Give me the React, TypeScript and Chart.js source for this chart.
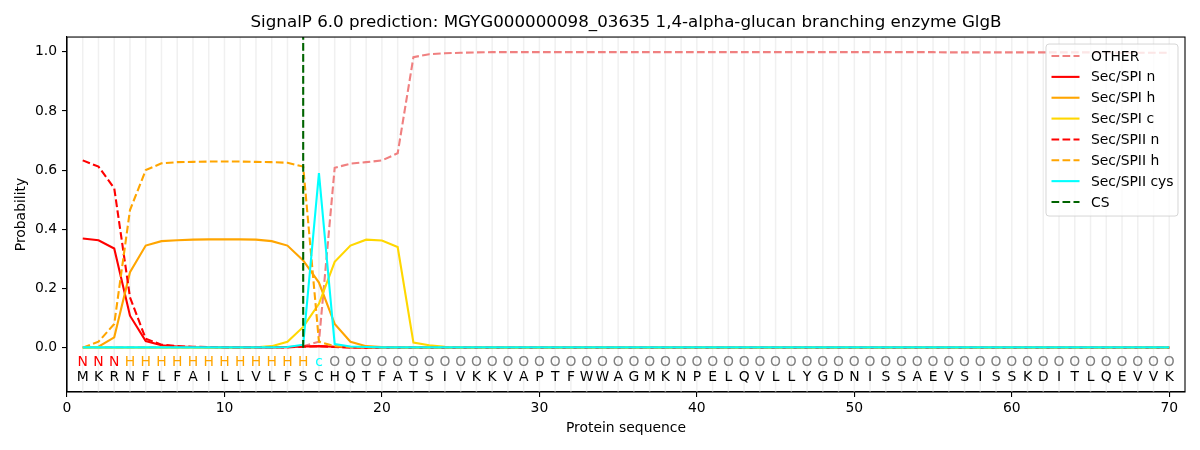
import React, { useEffect, useRef } from "react";
import { Chart, registerables, ChartConfiguration, Plugin } from "chart.js";

Chart.register(...registerables);

// Protein sequence (one letter per position, starting at 1)
const sequence = "MKRNFLFAILLVLFSCHQTFATSIVKKVAPTFWWAGMKNPELQVLLYGDNISSAEVSISSKDITLQEVVK".split("");

// Predicted region per position: N = n-region, H = h-region, c = c-region/cys, O = other
const regionLabels = "NNNHHHHHHHHHHHHcOOOOOOOOOOOOOOOOOOOOOOOOOOOOOOOOOOOOOOOOOOOOOOOOOOOOOO".split("");

const regionColors: Record<string, string> = {
  N: "#ff0000",
  H: "#ffa500",
  c: "#00ffff",
  O: "#808080",
};

const otherProb = [
  0.001, 0.001, 0.001, 0.001, 0.001, 0.001, 0.001, 0.001, 0.001, 0.001,
  0.001, 0.001, 0.001, 0.001, 0.005, 0.02, 0.608, 0.622, 0.627, 0.633,
  0.657, 0.982, 0.992, 0.995, 0.997, 0.998, 0.999, 0.999, 0.999, 0.999,
  0.999, 0.999, 0.999, 0.999, 0.999, 0.999, 0.999, 0.999, 0.999, 0.999,
  0.999, 0.999, 0.999, 0.999, 0.999, 0.999, 0.999, 0.999, 0.999, 0.999,
  0.999, 0.999, 0.999, 0.999, 0.999, 0.998, 0.998, 0.998, 0.998, 0.998,
  0.998, 0.998, 0.998, 0.998, 0.998, 0.998, 0.997, 0.997, 0.997, 0.997,
];

const secSpiN = [
  0.369, 0.363, 0.335, 0.108, 0.022, 0.008, 0.004, 0.002, 0.001, 0.001,
  0.001, 0.001, 0.001, 0.002, 0.004, 0.005, 0.003, 0.001, 0, 0,
  0, 0, 0, 0, 0, 0, 0, 0, 0, 0,
  0, 0, 0, 0, 0, 0, 0, 0, 0, 0,
  0, 0, 0, 0, 0, 0, 0, 0, 0, 0,
  0, 0, 0, 0, 0, 0, 0, 0, 0, 0,
  0, 0, 0, 0, 0, 0, 0, 0, 0, 0,
];

const secSpiH = [
  0, 0.003, 0.035, 0.255, 0.345, 0.36, 0.363, 0.365, 0.366, 0.366,
  0.366, 0.365, 0.36, 0.345, 0.295, 0.22, 0.08, 0.02, 0.005, 0.002,
  0.001, 0, 0, 0, 0, 0, 0, 0, 0, 0,
  0, 0, 0, 0, 0, 0, 0, 0, 0, 0,
  0, 0, 0, 0, 0, 0, 0, 0, 0, 0,
  0, 0, 0, 0, 0, 0, 0, 0, 0, 0,
  0, 0, 0, 0, 0, 0, 0, 0, 0, 0,
];

const secSpiC = [
  0, 0, 0, 0, 0, 0, 0, 0, 0, 0,
  0, 0.001, 0.005, 0.02, 0.07, 0.148, 0.29, 0.345, 0.365, 0.362,
  0.34, 0.017, 0.008, 0.003, 0.001, 0, 0, 0, 0, 0,
  0, 0, 0, 0, 0, 0, 0, 0, 0, 0,
  0, 0, 0, 0, 0, 0, 0, 0, 0, 0,
  0, 0, 0, 0, 0, 0, 0, 0, 0, 0,
  0, 0, 0, 0, 0, 0, 0, 0, 0, 0,
];

const secSpiiN = [
  0.633, 0.612, 0.539, 0.17, 0.03, 0.01, 0.005, 0.003, 0.002, 0.001,
  0.001, 0.001, 0.001, 0.001, 0.003, 0.005, 0.002, 0.001, 0, 0,
  0, 0, 0, 0, 0, 0, 0, 0, 0, 0,
  0, 0, 0, 0, 0, 0, 0, 0, 0, 0,
  0, 0, 0, 0, 0, 0, 0, 0, 0, 0,
  0, 0, 0, 0, 0, 0, 0, 0, 0, 0,
  0, 0, 0, 0, 0, 0, 0, 0, 0, 0,
];

const secSpiiH = [
  0, 0.02, 0.08, 0.465, 0.6, 0.623, 0.627, 0.628, 0.629, 0.629,
  0.629, 0.628, 0.627, 0.625, 0.612, 0.02, 0.005, 0.002, 0.001, 0,
  0, 0, 0, 0, 0, 0, 0, 0, 0, 0,
  0, 0, 0, 0, 0, 0, 0, 0, 0, 0,
  0, 0, 0, 0, 0, 0, 0, 0, 0, 0,
  0, 0, 0, 0, 0, 0, 0, 0, 0, 0,
  0, 0, 0, 0, 0, 0, 0, 0, 0, 0,
];

const secSpiiCys = [
  0.001, 0.001, 0.001, 0.001, 0.001, 0.001, 0.001, 0.001, 0.001, 0.001,
  0.001, 0.001, 0.001, 0.002, 0.01, 0.59, 0.012, 0.004, 0.002, 0.001,
  0.001, 0.001, 0.001, 0.001, 0.001, 0.001, 0.001, 0.001, 0.001, 0.001,
  0.001, 0.001, 0.001, 0.001, 0.001, 0.001, 0.001, 0.001, 0.001, 0.001,
  0.001, 0.001, 0.001, 0.001, 0.001, 0.001, 0.001, 0.001, 0.001, 0.001,
  0.001, 0.001, 0.001, 0.001, 0.001, 0.001, 0.001, 0.001, 0.001, 0.001,
  0.001, 0.001, 0.001, 0.001, 0.001, 0.001, 0.001, 0.001, 0.001, 0.001,
];

// cleavage site position and the y-span of its marker
const csPosition = 15;
const csSpan = [0, 1.05];

const xTickValues = [0, 10, 20, 30, 40, 50, 60, 70];
const yTickValues = [0, 0.2, 0.4, 0.6, 0.8, 1.0];

const FONT = "'DejaVu Sans', sans-serif";
const DASH = [7.7, 3.3];

const toPoints = (values: number[]) => values.map((y, i) => ({ x: i + 1, y }));

// light vertical line at every residue
const residueGridPlugin: Plugin<"line"> = {
  id: "residueGrid",
  beforeDatasetsDraw(chart) {
    const { ctx, chartArea, scales } = chart;
    ctx.save();
    ctx.strokeStyle = "#f0f0f0";
    ctx.lineWidth = 1.5;
    sequence.forEach((_, i) => {
      const px = scales.x.getPixelForValue(i + 1);
      ctx.beginPath();
      ctx.moveTo(px, chartArea.top);
      ctx.lineTo(px, chartArea.bottom);
      ctx.stroke();
    });
    ctx.restore();
  },
};

// region letters and amino acid letters under the curves
const letterPlugin: Plugin<"line"> = {
  id: "letters",
  afterDatasetsDraw(chart) {
    const { ctx, scales } = chart;
    ctx.save();
    ctx.font = `13.9px ${FONT}`;
    ctx.textAlign = "center";
    ctx.textBaseline = "middle";
    sequence.forEach((aa, i) => {
      const px = scales.x.getPixelForValue(i + 1);
      const region = regionLabels[i];
      ctx.fillStyle = regionColors[region];
      ctx.fillText(region, px, scales.y.getPixelForValue(-0.051));
      ctx.fillStyle = "#000000";
      ctx.fillText(aa, px, scales.y.getPixelForValue(-0.101));
    });
    ctx.restore();
  },
};

// full box around the plot area
const framePlugin: Plugin<"line"> = {
  id: "frame",
  afterDraw(chart) {
    const { ctx, chartArea } = chart;
    ctx.save();
    ctx.strokeStyle = "#000000";
    ctx.lineWidth = 1.1;
    ctx.strokeRect(chartArea.left, chartArea.top, chartArea.right - chartArea.left, chartArea.bottom - chartArea.top);
    ctx.restore();
  },
};

// matplotlib-like legend in the upper right of the plot area
const legendBoxPlugin: Plugin<"line"> = {
  id: "legendBox",
  afterDraw(chart) {
    const { ctx, chartArea } = chart;
    const items = chart.data.datasets;
    const rowH = 20.85;
    const boxW = 132;
    const boxH = 172;
    const left = chartArea.right - 7 - boxW;
    const top = chartArea.top + 7;
    ctx.save();
    ctx.beginPath();
    ctx.roundRect(left, top, boxW, boxH, 3);
    ctx.fillStyle = "rgba(255,255,255,0.8)";
    ctx.fill();
    ctx.strokeStyle = "rgba(204,204,204,0.8)";
    ctx.lineWidth = 1;
    ctx.stroke();
    ctx.font = `13.9px ${FONT}`;
    ctx.textBaseline = "middle";
    ctx.textAlign = "left";
    items.forEach((ds: any, i) => {
      const cy = top + 12 + i * rowH;
      ctx.beginPath();
      ctx.setLineDash(ds.borderDash || []);
      ctx.strokeStyle = ds.borderColor;
      ctx.lineWidth = 2.1;
      ctx.moveTo(left + 5.5, cy);
      ctx.lineTo(left + 33.5, cy);
      ctx.stroke();
      ctx.setLineDash([]);
      ctx.fillStyle = "#000000";
      ctx.fillText(ds.label, left + 45, cy + 1);
    });
    ctx.restore();
  },
};

const App: React.FC = () => {
  const canvasRef = useRef<HTMLCanvasElement>(null);
  const chartRef = useRef<Chart<"line"> | null>(null);

  useEffect(() => {
    document.body.style.margin = "0";
    if (!canvasRef.current) return;
    const ctx = canvasRef.current.getContext("2d");
    if (!ctx) return;

    if (chartRef.current) chartRef.current.destroy();

    const series = [
      { label: "OTHER", values: otherProb, color: "#f08080", dash: DASH },
      { label: "Sec/SPI n", values: secSpiN, color: "#ff0000", dash: [] },
      { label: "Sec/SPI h", values: secSpiH, color: "#ffa500", dash: [] },
      { label: "Sec/SPI c", values: secSpiC, color: "#ffd700", dash: [] },
      { label: "Sec/SPII n", values: secSpiiN, color: "#ff0000", dash: DASH },
      { label: "Sec/SPII h", values: secSpiiH, color: "#ffa500", dash: DASH },
      { label: "Sec/SPII cys", values: secSpiiCys, color: "#00ffff", dash: [] },
    ];

    const datasets: any[] = series.map((s, i) => ({
      label: s.label,
      data: toPoints(s.values),
      borderColor: s.color,
      backgroundColor: s.color,
      borderDash: s.dash,
      borderWidth: 2.1,
      pointRadius: 0,
      tension: 0,
      fill: false,
      order: 20 - i,
    }));
    datasets.push({
      label: "CS",
      data: csSpan.map((y) => ({ x: csPosition, y })),
      borderColor: "#006400",
      backgroundColor: "#006400",
      borderDash: DASH,
      borderWidth: 2.1,
      pointRadius: 0,
      fill: false,
      order: 1,
    });

    const config: ChartConfiguration<"line"> = {
      type: "line",
      data: { datasets },
      options: {
        animation: false,
        responsive: false,
        devicePixelRatio: 1,
        layout: { padding: { left: 0, right: 15, top: 0, bottom: 0 } },
        plugins: {
          legend: { display: false },
          tooltip: { enabled: false },
          title: {
            display: true,
            text: "SignalP 6.0 prediction: MGYG000000098_03635 1,4-alpha-glucan branching enzyme GlgB",
            color: "#000000",
            font: { family: FONT, size: 16.7, weight: "normal", lineHeight: 1.2 },
            padding: { top: 12.5, bottom: 4.5 },
            fullSize: false,
          },
        },
        scales: {
          x: {
            type: "linear",
            min: 0,
            max: 71,
            afterBuildTicks: (axis) => {
              axis.ticks = xTickValues.map((value) => ({ value }));
            },
            afterFit: (axis) => {
              axis.height = 58;
            },
            grid: { drawOnChartArea: false, drawTicks: true, tickLength: 5, color: "#000000", lineWidth: 1.1 },
            border: { display: true, color: "#000000", width: 1.1 },
            ticks: {
              color: "#000000",
              font: { family: FONT, size: 13.9 },
              padding: 3,
              maxRotation: 0,
              callback: (v) => String(v),
            },
            title: {
              display: true,
              text: "Protein sequence",
              color: "#000000",
              font: { family: FONT, size: 13.9, lineHeight: 1.2 },
              padding: { top: 0, bottom: 13.5 },
            },
          },
          y: {
            type: "linear",
            min: -0.15,
            max: 1.05,
            afterBuildTicks: (axis) => {
              axis.ticks = yTickValues.map((value) => ({ value }));
            },
            afterFit: (axis) => {
              axis.width = 67;
            },
            grid: { drawOnChartArea: false, drawTicks: true, tickLength: 5, color: "#000000", lineWidth: 1.1 },
            border: { display: true, color: "#000000", width: 1.1 },
            ticks: {
              color: "#000000",
              font: { family: FONT, size: 13.9 },
              padding: 5,
              callback: (v) => Number(v).toFixed(1),
            },
            title: {
              display: true,
              text: "Probability",
              color: "#000000",
              font: { family: FONT, size: 13.9, lineHeight: 1.2 },
              padding: { top: 13.5, bottom: 0 },
            },
          },
        },
      },
      plugins: [residueGridPlugin, letterPlugin, framePlugin, legendBoxPlugin],
    };

    chartRef.current = new Chart(ctx, config);

    return () => {
      if (chartRef.current) {
        chartRef.current.destroy();
        chartRef.current = null;
      }
    };
  }, []);

  return (
    <div style={{ width: 1200, height: 450 }}>
      <canvas ref={canvasRef} width={1200} height={450} style={{ display: "block" }}></canvas>
    </div>
  );
};

export default App;
